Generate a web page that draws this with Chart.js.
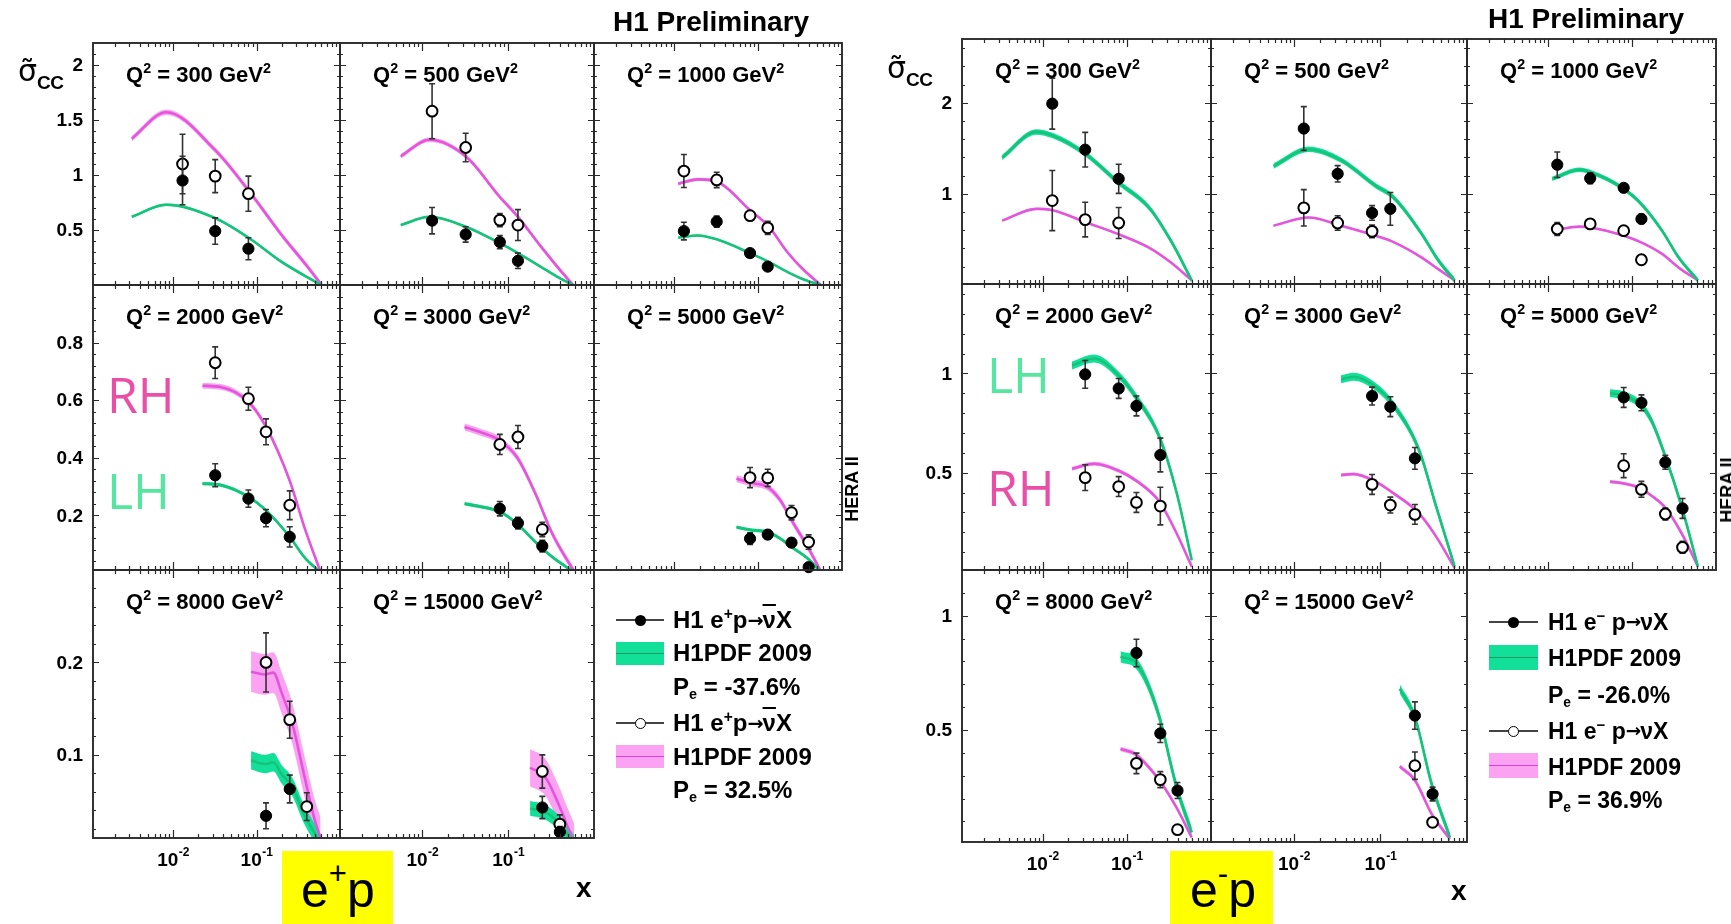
<!DOCTYPE html>
<html><head><meta charset="utf-8">
<script src="https://cdn.jsdelivr.net/npm/chart.js"></script>
<style>
html,body{margin:0;padding:0;background:#fff;width:1731px;height:924px;overflow:hidden;}
#stage{position:relative;width:1731px;height:924px;font-family:"Liberation Sans",Arial,Helvetica,sans-serif;}
canvas{position:absolute;}
.t{position:absolute;white-space:nowrap;line-height:1;font-weight:bold;color:#000;}
.t sup{font-size:0.65em;vertical-align:0.6em;line-height:0;}
.t sub{font-size:0.6em;vertical-align:-0.3em;line-height:0;}
.ov{text-decoration:overline;text-decoration-thickness:2px;}
.arr{font-family:"DejaVu Sans",sans-serif;font-weight:bold;font-size:0.8em;position:relative;top:-0.08em;letter-spacing:-1px;}
</style></head><body><div id="stage"></div>
<script>
// ---------------- DATA ----------------
const qValues = ['300','500','1000','2000','3000','5000','8000','15000'];
const X_MIN = 0.0011, X_MAX = 1;
const xTickValues = [0.01, 0.1];
const xTickExps = ['-2', '-1'];

// e+p panel, y axes per row
const epYMin = [0, 0.01, 0.01];
const epYMax = [2.2, 1.0, 0.3];
const epYTicks = [[0.5,1,1.5,2],[0.2,0.4,0.6,0.8],[0.1,0.2]];
const epYTickLabels = [['0.5','1','1.5','2'],['0.2','0.4','0.6','0.8'],['0.1','0.2']];
const epYMinor = [0.1, 0.04, 0.02];

// e+p measured points (LH = filled, P=-37.6%; RH = open, P=32.5%)
const epLhX = [[0.013,0.032,0.08],[0.013,0.032,0.08,0.13],[0.013,0.032,0.08,0.13],[0.032,0.08,0.13,0.25],[0.08,0.13,0.25],[0.08,0.13,0.25,0.4],[0.13,0.25],[0.25,0.4]];
const epLhY = [[0.95,0.49,0.33],[0.585,0.46,0.39,0.22],[0.49,0.576,0.29,0.167],[0.339,0.258,0.19,0.125],[0.223,0.173,0.093],[0.119,0.133,0.105,0.02],[0.034,0.063],[0.043,0.0165]];
const epLhErr = [[0.22,0.12,0.10],[0.12,0.07,0.06,0.07],[0.08,0.05,0.03,0.03],[0.04,0.03,0.03,0.035],[0.025,0.02,0.02],[0.02,0.015,0.015,0.01],[0.014,0.015],[0.012,0.006]];
const epRhX = [[0.013,0.032,0.08],[0.013,0.032,0.08,0.13],[0.013,0.032,0.08,0.13],[0.032,0.08,0.13,0.25],[0.08,0.13,0.25],[0.08,0.13,0.25,0.4],[0.13,0.25,0.4],[0.25,0.4]];
const epRhY = [[1.10,0.99,0.83],[1.58,1.25,0.59,0.545],[1.036,0.955,0.63,0.52],[0.73,0.605,0.49,0.235],[0.446,0.472,0.151],[0.331,0.33,0.209,0.107],[0.2,0.138,0.044],[0.082,0.025]];
const epRhErr = [[0.27,0.15,0.16],[0.25,0.13,0.06,0.14],[0.15,0.07,0.04,0.06],[0.055,0.04,0.045,0.05],[0.035,0.04,0.025],[0.035,0.03,0.025,0.025],[0.032,0.02,0.015],[0.018,0.01]];
// e+p H1PDF 2009 curves
const epCurveX = [[0.0032,0.0083,0.0316,0.082,0.2,0.42,0.6],[0.0056,0.0121,0.032,0.08,0.13,0.235,0.37,0.57],[0.0111,0.019,0.032,0.08,0.134,0.222,0.35,0.56],[0.0225,0.037,0.08,0.13,0.25,0.373,0.59],[0.031,0.046,0.08,0.128,0.208,0.327,0.6],[0.055,0.086,0.13,0.184,0.25,0.39,0.57],[0.086,0.126,0.159,0.2,0.27,0.37,0.5,0.585],[0.18,0.27,0.385,0.48,0.59]];
const epLhCurve = [[0.62,0.73,0.61,0.425,0.21,0.064,0],[0.545,0.62,0.53,0.38,0.29,0.17,0.076,0],[0.43,0.45,0.415,0.29,0.21,0.12,0.05,0],[0.31,0.305,0.264,0.217,0.125,0.055,0],[0.24,0.231,0.212,0.17,0.107,0.055,0],[0.159,0.148,0.142,0.119,0.09,0.05,0],[0.094,0.09,0.092,0.079,0.065,0.036,0.015,0.005],[0.042,0.038,0.027,0.016,0.005]];
const epRhCurve = [[1.33,1.57,1.23,0.85,0.455,0.155,0],[1.17,1.32,1.17,0.80,0.62,0.36,0.17,0],[0.92,0.96,0.94,0.68,0.53,0.30,0.136,0],[0.65,0.646,0.594,0.507,0.32,0.16,0],[0.507,0.49,0.46,0.40,0.275,0.136,0],[0.327,0.312,0.298,0.252,0.183,0.09,0],[0.19,0.187,0.189,0.167,0.133,0.079,0.029,0.01],[0.086,0.076,0.047,0.025,0.005]];
const epLhBand = [0.012,0.01,0.008,0.006,0.006,0.006,0.01,0.008];
const epRhBand = [0.025,0.02,0.015,0.01,0.012,0.012,0.022,0.02];

// e-p panel, y axes per row
const emYMin = [0.01, 0.01, 0.01];
const emYMax = [2.7, 1.45, 1.2];
const emYTicks = [[1,2],[0.5,1],[0.5,1]];
const emYTickLabels = [['1','2'],['0.5','1'],['0.5','1']];
const emYMinor = [0.2, 0.1, 0.1];

// e-p measured points (LH = filled, P=-26.0%; RH = open, P=36.9%)
const emLhX = [[0.013,0.032,0.08],[0.013,0.032,0.08,0.13],[0.013,0.032,0.08,0.13],[0.032,0.08,0.13,0.25],[0.08,0.13,0.25],[0.08,0.13,0.25,0.4],[0.13,0.25,0.4],[0.25,0.4]];
const emLhY = [[1.99,1.485,1.165],[1.717,1.22,0.79,0.835],[1.32,1.17,1.066,0.724],[0.995,0.924,0.836,0.589],[0.886,0.832,0.572],[0.879,0.852,0.552,0.32],[0.837,0.485,0.235],[0.563,0.22]];
const emLhErr = [[0.28,0.19,0.16],[0.24,0.09,0.08,0.18],[0.14,0.06,0.04,0.05],[0.07,0.05,0.05,0.085],[0.045,0.05,0.055],[0.05,0.04,0.035,0.05],[0.06,0.04,0.035],[0.06,0.03]];
const emRhX = [[0.013,0.032,0.08],[0.013,0.032,0.08],[0.013,0.032,0.08,0.13],[0.032,0.08,0.13,0.25],[0.08,0.13,0.25],[0.08,0.13,0.25,0.4],[0.13,0.25,0.4],[0.25,0.4]];
const emRhY = [[0.926,0.717,0.68],[0.846,0.68,0.588],[0.614,0.67,0.595,0.276],[0.475,0.43,0.35,0.332],[0.441,0.337,0.29],[0.535,0.416,0.292,0.124],[0.354,0.283,0.064],[0.344,0.096]];
const emRhErr = [[0.33,0.19,0.17],[0.2,0.08,0.07],[0.07,0.05,0.04,0.04],[0.065,0.05,0.05,0.095],[0.05,0.04,0.05],[0.06,0.04,0.03,0.03],[0.045,0.035,0.015],[0.06,0.02]];
// e-p H1PDF 2009 curves
const emCurveX = [[0.0033,0.0084,0.0131,0.032,0.078,0.183,0.334,0.59],[0.0058,0.0148,0.035,0.0875,0.142,0.3,0.47,0.72],[0.0113,0.024,0.032,0.08,0.129,0.229,0.36,0.61],[0.0223,0.041,0.08,0.129,0.244,0.39,0.59],[0.035,0.049,0.0875,0.142,0.279,0.44,0.72],[0.055,0.08,0.129,0.17,0.243,0.39,0.61],[0.084,0.126,0.17,0.244,0.39,0.59],[0.167,0.25,0.39,0.635]];
const emLhCurve = [[1.40,1.68,1.64,1.44,1.13,0.85,0.485,0.05],[1.305,1.49,1.37,1.09,0.96,0.56,0.265,0.05],[1.165,1.265,1.24,1.055,0.89,0.595,0.30,0.05],[1.04,1.075,0.99,0.88,0.68,0.40,0.06],[0.97,0.983,0.933,0.84,0.614,0.33,0.027],[0.90,0.89,0.84,0.765,0.597,0.33,0.027],[0.82,0.796,0.716,0.555,0.25,0.052],[0.68,0.555,0.264,0.03]];
const emRhCurve = [[0.706,0.835,0.82,0.69,0.56,0.41,0.246,0.05],[0.65,0.74,0.65,0.54,0.47,0.30,0.17,0.05],[0.595,0.64,0.63,0.54,0.467,0.34,0.19,0.05],[0.52,0.545,0.51,0.46,0.354,0.195,0.027],[0.488,0.493,0.455,0.396,0.295,0.178,0.02],[0.455,0.446,0.42,0.385,0.33,0.195,0.027],[0.417,0.395,0.35,0.28,0.16,0.03],[0.34,0.28,0.133,0.023]];
const emLhBand = [0.03,0.03,0.025,0.02,0.02,0.02,0.025,0.02];
const emRhBand = [0.012,0.012,0.01,0.01,0.008,0.008,0.01,0.01];

// ---------------- STYLE / LAYOUT ----------------
const GREEN_LINE = '#17c27a', GREEN_BAND = '#12e098';
const PINK_LINE = '#e356dc', PINK_BAND = '#fba2f3';
const FONT = '"Liberation Sans", Arial, Helvetica, sans-serif';
const stage = document.getElementById('stage');

const panels = [
  {cols:[93,340,594,842], rows:[43,285,570,838],
   yMin:epYMin, yMax:epYMax, yTicks:epYTicks, yLabels:epYTickLabels, yMinor:epYMinor,
   lhX:epLhX, lhY:epLhY, lhE:epLhErr, rhX:epRhX, rhY:epRhY, rhE:epRhErr,
   cX:epCurveX, lhC:epLhCurve, rhC:epRhCurve, lhB:epLhBand, rhB:epRhBand},
  {cols:[962,1211,1467,1716], rows:[39,284,570,842],
   yMin:emYMin, yMax:emYMax, yTicks:emYTicks, yLabels:emYTickLabels, yMinor:emYMinor,
   lhX:emLhX, lhY:emLhY, lhE:emLhErr, rhX:emRhX, rhY:emRhY, rhE:emRhErr,
   cX:emCurveX, lhC:emLhCurve, rhC:emRhCurve, lhB:emLhBand, rhB:emRhBand}
];

// ---------------- PLUGINS ----------------
const frameTicks = {
  id: 'frameTicks',
  afterDatasetsDraw(chart, args, o) {
    const {ctx, chartArea: a, scales: {x, y}} = chart;
    ctx.save();
    ctx.strokeStyle = '#2a2a2a';
    ctx.lineWidth = 1.2;
    ctx.beginPath();
    const n = Math.ceil(y.max / o.yMinor);
    for (let k = 1; k <= n; k++) {
      const v = k * o.yMinor;
      if (v <= y.min + 1e-9 || v >= y.max - 1e-9) continue;
      const major = o.yTicks.some(m => Math.abs(m - v) < 1e-6);
      const len = major ? 6 : 3;
      const py = Math.round(y.getPixelForValue(v)) + 0.5;
      ctx.moveTo(a.left, py); ctx.lineTo(a.left + len, py);
      ctx.moveTo(a.right, py); ctx.lineTo(a.right - len, py);
    }
    for (let e = -3; e <= 0; e++) {
      for (let m = 1; m <= 9; m++) {
        const v = m * Math.pow(10, e);
        if (v <= x.min || v >= x.max) continue;
        const len = m === 1 ? 8 : 4;
        const px = Math.round(x.getPixelForValue(v)) + 0.5;
        ctx.moveTo(px, a.bottom); ctx.lineTo(px, a.bottom - len);
        ctx.moveTo(px, a.top); ctx.lineTo(px, a.top + len);
      }
    }
    ctx.stroke();
    ctx.lineWidth = 1.9;
    ctx.strokeRect(a.left, a.top, a.right - a.left, a.bottom - a.top);
    ctx.fillStyle = '#000';
    if (o.showY) {
      ctx.font = 'bold 19px ' + FONT;
      ctx.textAlign = 'right';
      ctx.textBaseline = 'middle';
      o.yTicks.forEach((v, i) => ctx.fillText(o.yLabels[i], a.left - 10, y.getPixelForValue(v) + 1));
    }
    if (o.showX) {
      ctx.textAlign = 'left';
      ctx.textBaseline = 'alphabetic';
      xTickValues.forEach((v, i) => {
        const px = x.getPixelForValue(v);
        ctx.font = 'bold 19px ' + FONT;
        const w1 = ctx.measureText('10').width;
        ctx.font = 'bold 12px ' + FONT;
        const w2 = ctx.measureText(xTickExps[i]).width;
        const x0 = px - (w1 + w2) / 2;
        ctx.font = 'bold 19px ' + FONT;
        ctx.fillText('10', x0, a.bottom + 28);
        ctx.font = 'bold 12px ' + FONT;
        ctx.fillText(xTickExps[i], x0 + w1 + 0.5, a.bottom + 18);
      });
    }
    ctx.restore();
  }
};

const errorBars = {
  id: 'errorBars',
  beforeDatasetDraw(chart, args) {
    const ds = chart.data.datasets[args.index];
    if (!ds.errors) return;
    const {ctx, scales: {y}} = chart;
    ctx.save();
    ctx.strokeStyle = '#333';
    ctx.lineWidth = 1.6;
    ctx.beginPath();
    args.meta.data.forEach((pt, i) => {
      const v = ds.data[i].y, e = ds.errors[i];
      const y1 = y.getPixelForValue(v + e), y2 = y.getPixelForValue(v - e);
      ctx.moveTo(pt.x, y1); ctx.lineTo(pt.x, y2);
      ctx.moveTo(pt.x - 3, y1); ctx.lineTo(pt.x + 3, y1);
      ctx.moveTo(pt.x - 3, y2); ctx.lineTo(pt.x + 3, y2);
    });
    ctx.stroke();
    ctx.restore();
  }
};

// ---------------- TEXT HELPERS ----------------
function addText(html, x, cy, fs, extra, k) {
  const d = document.createElement('div');
  d.className = 't';
  d.innerHTML = html;
  d.style.left = x + 'px';
  d.style.top = (cy - (k === undefined ? 0.49 : k) * fs) + 'px';
  d.style.fontSize = fs + 'px';
  if (extra) Object.assign(d.style, extra);
  stage.appendChild(d);
  return d;
}
function addBox(x, y, w, h, bg, extra) {
  const d = document.createElement('div');
  Object.assign(d.style, {position:'absolute', left:x+'px', top:y+'px', width:w+'px', height:h+'px', background:bg}, extra || {});
  stage.appendChild(d);
  return d;
}

// ---------------- BUILD SUBPLOTS ----------------
function pts(xs, ys) { return xs.map((x, i) => ({x, y: ys[i]})); }
function shifted(xs, ys, d) { return xs.map((x, i) => ({x, y: ys[i] + d})); }
const curveBase = {pointRadius:0, pointHoverRadius:0, cubicInterpolationMode:'monotone', clip:0};

panels.forEach((P) => {
  for (let k = 0; k < 8; k++) {
    const r = Math.floor(k / 3), c = k % 3;
    const L = P.cols[c], R = P.cols[c + 1], T = P.rows[r], B = P.rows[r + 1];
    const showY = c === 0, showX = r === 2;
    const padL = showY ? 80 : 10, padR = 10, padT = 10, padB = showX ? 45 : 10;
    const cv = document.createElement('canvas');
    cv.width = R - L + padL + padR;
    cv.height = B - T + padT + padB;
    cv.style.left = (L - padL) + 'px';
    cv.style.top = (T - padT) + 'px';
    stage.appendChild(cv);
    const datasets = [
      {data: pts(P.lhX[k], P.lhY[k]), errors: P.lhE[k], showLine:false, pointRadius:5.6, pointHoverRadius:5.6,
       pointBackgroundColor:'#000', pointBorderColor:'#000', pointBorderWidth:1, order:0, clip:false},
      {data: pts(P.rhX[k], P.rhY[k]), errors: P.rhE[k], showLine:false, pointRadius:5.4, pointHoverRadius:5.4,
       pointBackgroundColor:'#fff', pointBorderColor:'#000', pointBorderWidth:2, order:0, clip:false},
      Object.assign({data: pts(P.cX[k], P.lhC[k]), borderColor:GREEN_LINE, borderWidth:2.6, fill:false, order:1}, curveBase),
      Object.assign({data: pts(P.cX[k], P.rhC[k]), borderColor:PINK_LINE, borderWidth:2.6, fill:false, order:1}, curveBase),
      Object.assign({data: shifted(P.cX[k], P.lhC[k], P.lhB[k]), borderColor:'transparent', borderWidth:0, fill:'+1', backgroundColor:GREEN_BAND, order:2}, curveBase),
      Object.assign({data: shifted(P.cX[k], P.lhC[k], -P.lhB[k]), borderColor:'transparent', borderWidth:0, fill:false, order:2}, curveBase),
      Object.assign({data: shifted(P.cX[k], P.rhC[k], P.rhB[k]), borderColor:'transparent', borderWidth:0, fill:'+1', backgroundColor:PINK_BAND, order:2}, curveBase),
      Object.assign({data: shifted(P.cX[k], P.rhC[k], -P.rhB[k]), borderColor:'transparent', borderWidth:0, fill:false, order:2}, curveBase)
    ];
    new Chart(cv, {
      type: 'line',
      data: {datasets},
      options: {
        responsive:false, animation:false, devicePixelRatio:1, events:[],
        layout:{padding:{left:padL, right:padR, top:padT, bottom:padB}},
        plugins:{legend:{display:false}, tooltip:{enabled:false},
          frameTicks:{yTicks:P.yTicks[r], yLabels:P.yLabels[r], yMinor:P.yMinor[r], showY, showX}},
        scales:{
          x:{type:'logarithmic', min:X_MIN, max:X_MAX, display:false},
          y:{type:'linear', min:P.yMin[r], max:P.yMax[r], display:false}
        }
      },
      plugins:[frameTicks, errorBars]
    });
    addText('Q<sup>2</sup> = ' + qValues[k] + ' GeV<sup>2</sup>', L + 33, T + 32, 22);
  }
});

// ---------------- TEXT ----------------
addText('H1 Preliminary', 613, 22, 28);
addText('H1 Preliminary', 1488, 19, 28);

function sigma(x, cy) {
  addText('<span style="font-family:\'DejaVu Sans\';font-weight:normal;font-size:30px">σ\u0303</span><span style="font-size:19px;position:relative;top:8px;letter-spacing:-0.5px">CC</span>', x, cy, 30);
}
sigma(18, 71);
sigma(887, 68);

function hera(cx, cy) {
  const d = addText('HERA II', cx, cy, 18, {transform:'translate(-50%,-50%) rotate(-90deg)'}, 0);
  d.style.top = cy + 'px';
}
hera(852, 489);
hera(1727, 490);

const hand = {fontFamily:'"Open Sans", "Liberation Sans", sans-serif', fontWeight:'400'};
addText('RH', 107, 395, 50, Object.assign({color:'#e94fa6'}, hand), 0.53);
addText('LH', 107, 491, 50, Object.assign({color:'#55e6a0'}, hand), 0.53);
addText('LH', 987, 375, 50, Object.assign({color:'#55e6a0'}, hand), 0.53);
addText('RH', 987, 488, 50, Object.assign({color:'#e94fa6'}, hand), 0.53);

addBox(282, 851, 111, 73, '#ffff00');
addText('e<sup style="font-size:0.62em;vertical-align:0.75em">+</sup>p', 301, 889, 50, {fontWeight:'normal'});
addBox(1170, 851, 103, 73, '#ffff00');
addText('e<sup style="font-size:0.62em;vertical-align:0.75em">-</sup>p', 1190, 889, 50, {fontWeight:'normal'});

addText('x', 576, 888, 28);
addText('x', 1451, 891, 28);

// ---------------- LEGENDS ----------------
function legendMarker(x1, x2, cy, open) {
  addBox(x1, cy - 0.75, x2 - x1, 1.5, '#444');
  addBox((x1 + x2) / 2 - 5.5, cy - 5.5, 11, 11, open ? '#fff' : '#000',
    {borderRadius:'50%', boxSizing:'border-box', border: open ? '1.8px solid #000' : 'none'});
}
function legendBand(x1, x2, y1, y2, fill, line) {
  addBox(x1, y1, x2 - x1, y2 - y1, fill);
  addBox(x1, (y1 + y2) / 2 - 0.75, x2 - x1, 1.5, line);
}
const ARROW = '<span class="arr">→</span>';
// e+p legend
legendMarker(616, 664, 620, false);
addText('H1 e<sup>+</sup>p' + ARROW + '<span class="ov">ν</span>X', 673, 620, 24);
legendBand(616, 664, 642, 665, GREEN_BAND, '#139a62');
addText('H1PDF 2009', 673, 653, 24);
addText('P<sub>e</sub> = -37.6%', 673, 687, 24);
legendMarker(616, 664, 723, true);
addText('H1 e<sup>+</sup>p' + ARROW + '<span class="ov">ν</span>X', 673, 723, 24);
legendBand(616, 664, 745, 768, PINK_BAND, '#e040d0');
addText('H1PDF 2009', 673, 757, 24);
addText('P<sub>e</sub> = 32.5%', 673, 790, 24);
// e-p legend
legendMarker(1489, 1538, 622, false);
addText('H1 e<sup>−</sup> p' + ARROW + 'νX', 1548, 622, 23);
legendBand(1489, 1538, 645, 670, GREEN_BAND, '#139a62');
addText('H1PDF 2009', 1548, 658, 23);
addText('P<sub>e</sub> = -26.0%', 1548, 695, 23);
legendMarker(1489, 1538, 731, true);
addText('H1 e<sup>−</sup> p' + ARROW + 'νX', 1548, 731, 23);
legendBand(1489, 1538, 753, 778, PINK_BAND, '#e040d0');
addText('H1PDF 2009', 1548, 767, 23);
addText('P<sub>e</sub> = 36.9%', 1548, 800, 23);
</script></body></html>
